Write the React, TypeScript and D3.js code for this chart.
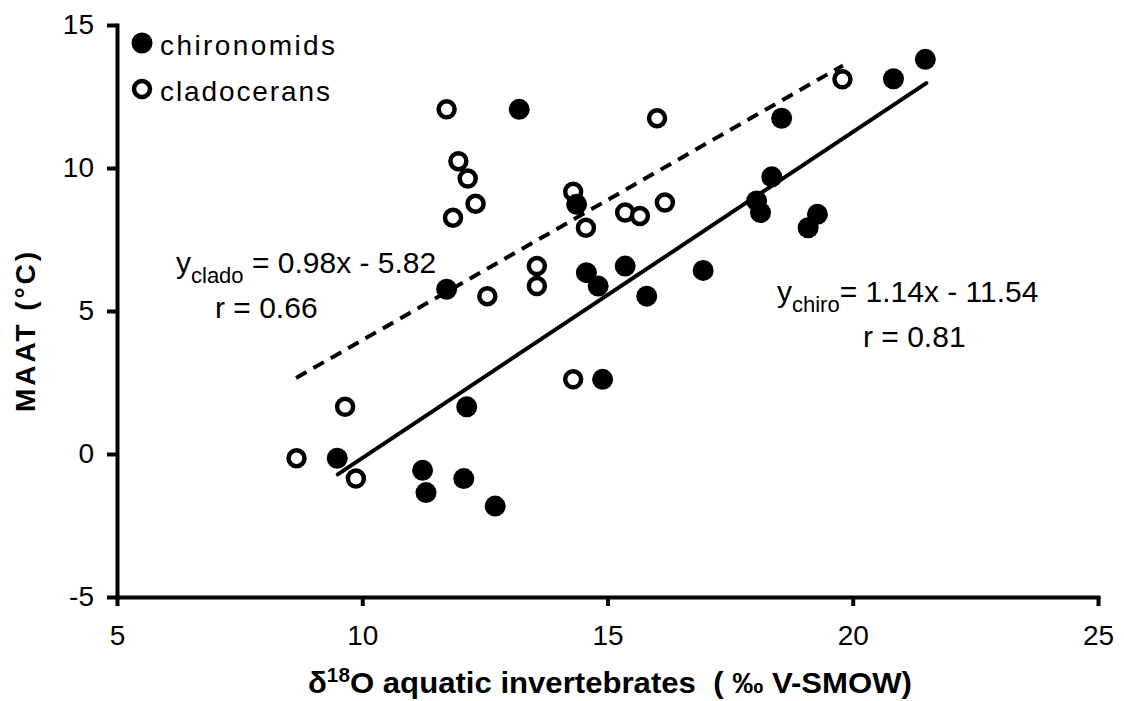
import React, { useEffect, useRef } from "react";
import * as d3 from "d3";

// chironomids (filled)
const chiroX = [9.49, 11.23, 11.3, 12.07, 12.71, 12.13, 11.72, 13.2, 14.37, 14.57, 14.81, 15.36, 14.9, 15.8, 16.95, 18.04, 18.12, 18.35, 18.55, 19.09, 19.28, 20.83, 21.48];
const chiroY = [-0.15, -0.57, -1.35, -0.86, -1.82, 1.65, 5.76, 12.05, 8.73, 6.34, 5.87, 6.57, 2.61, 5.52, 6.42, 8.85, 8.44, 9.69, 11.74, 7.91, 8.38, 13.12, 13.8];

// cladocerans (open)
const cladoX = [8.66, 9.87, 9.65, 11.72, 11.96, 12.15, 12.31, 11.85, 12.55, 13.56, 13.56, 14.3, 14.56, 14.3, 15.36, 15.66, 16.17, 16.01, 19.79];
const cladoY = [-0.15, -0.86, 1.65, 12.05, 10.24, 9.63, 8.75, 8.26, 5.52, 6.57, 5.87, 9.17, 7.91, 2.61, 8.44, 8.32, 8.79, 11.74, 13.1];

// regression lines: slope, intercept, x extent
const chiroFit = [1.14, -11.54];
const chiroFitRange = [9.5, 21.5];
const cladoFit = [0.98, -5.82];
const cladoFitRange = [8.65, 19.8];

const xTicks = [5, 10, 15, 20, 25];
const yTicks = [-5, 0, 5, 10, 15];

const FONT = "'Liberation Sans', Arial, sans-serif";

export default function App() {
  const ref = useRef<SVGSVGElement>(null);

  useEffect(() => {
    const svg = d3.select(ref.current);
    svg.selectAll("*").remove();

    const x = d3.scaleLinear().domain([5, 25]).range([117, 1098]);
    const y = d3.scaleLinear().domain([-5, 15]).range([597, 25]);

    // axes
    const gx = svg.append("g")
      .attr("transform", `translate(0, ${y(-5)})`)
      .call(d3.axisBottom(x).tickValues(xTicks).tickFormat(d => String(d)).tickSize(9).tickSizeOuter(0).tickPadding(19));
    const gy = svg.append("g")
      .attr("transform", `translate(${x(5)}, 0)`)
      .call(d3.axisLeft(y).tickValues(yTicks).tickFormat(d => String(d)).tickSize(10).tickSizeOuter(0).tickPadding(13));

    [gx, gy].forEach(g => {
      g.select(".domain").attr("stroke", "#000").attr("stroke-width", 4).attr("stroke-linecap", "square");
      g.selectAll(".tick line").attr("stroke", "#000").attr("stroke-width", 4);
      g.selectAll(".tick text")
        .attr("fill", "#000")
        .style("font-family", FONT)
        .style("font-size", "28px");
    });

    // regression lines
    const line = d3.line<number>().x(d => x(d));
    svg.append("path")
      .datum(cladoFitRange)
      .attr("d", line.y(d => y(cladoFit[0] * d + cladoFit[1])))
      .attr("fill", "none")
      .attr("stroke", "#000")
      .attr("stroke-width", 4)
      .attr("stroke-dasharray", "12,8");
    svg.append("path")
      .datum(chiroFitRange)
      .attr("d", line.y(d => y(chiroFit[0] * d + chiroFit[1])))
      .attr("fill", "none")
      .attr("stroke", "#000")
      .attr("stroke-width", 4)
      .attr("stroke-linecap", "round");

    // points
    svg.append("g").selectAll("circle")
      .data(d3.range(cladoX.length))
      .join("circle")
      .attr("cx", i => x(cladoX[i]))
      .attr("cy", i => y(cladoY[i]))
      .attr("r", 8)
      .attr("fill", "#fff")
      .attr("stroke", "#000")
      .attr("stroke-width", 4.5);

    svg.append("g").selectAll("circle")
      .data(d3.range(chiroX.length))
      .join("circle")
      .attr("cx", i => x(chiroX[i]))
      .attr("cy", i => y(chiroY[i]))
      .attr("r", 10.5)
      .attr("fill", "#000");

    // legend
    const legend = svg.append("g").style("font-family", FONT).style("font-size", "28px");
    legend.append("circle").attr("cx", 142).attr("cy", 43).attr("r", 10.5).attr("fill", "#000");
    legend.append("circle").attr("cx", 142).attr("cy", 89).attr("r", 8)
      .attr("fill", "#fff").attr("stroke", "#000").attr("stroke-width", 4.5);
    legend.append("text").attr("x", 160).attr("y", 55)
      .attr("textLength", 175).attr("lengthAdjust", "spacing").text("chironomids");
    legend.append("text").attr("x", 160).attr("y", 101)
      .attr("textLength", 170).attr("lengthAdjust", "spacing").text("cladocerans");

    // equations
    const eq = svg.append("g").style("font-family", FONT).style("font-size", "30px");
    const t1 = eq.append("text").attr("x", 176).attr("y", 273);
    t1.append("tspan").text("y");
    t1.append("tspan").attr("dy", 10).style("font-size", "22px").text("clado");
    t1.append("tspan").attr("dy", -10).text(" = 0.98x - 5.82");
    eq.append("text").attr("x", 215).attr("y", 318).text("r = 0.66");

    const t2 = eq.append("text").attr("x", 777).attr("y", 302);
    t2.append("tspan").text("y");
    t2.append("tspan").attr("dy", 10).style("font-size", "22px").text("chiro");
    t2.append("tspan").attr("dy", -10).text("= 1.14x - 11.54");
    eq.append("text").attr("x", 863).attr("y", 347).text("r = 0.81");

    // axis titles
    const xt = svg.append("text")
      .attr("x", 308)
      .attr("y", 693)
      .attr("textLength", 604)
      .attr("lengthAdjust", "spacingAndGlyphs")
      .style("font-family", FONT)
      .style("font-size", "30px")
      .style("font-weight", "bold")
      .style("white-space", "pre");
    xt.append("tspan").text("δ");
    xt.append("tspan").attr("dy", -11).style("font-size", "20px").text("18");
    xt.append("tspan").attr("dy", 11).text("O aquatic invertebrates\u00a0\u00a0( ‰ V-SMOW)");

    svg.append("text")
      .attr("transform", `translate(35, 332) rotate(-90)`)
      .attr("text-anchor", "middle")
      .attr("textLength", 160)
      .attr("lengthAdjust", "spacing")
      .style("font-family", FONT)
      .style("font-size", "28px")
      .style("font-weight", "bold")
      .text("MAAT (°C)");
  }, []);

  return (
    <svg ref={ref} width={1124} height={701}
      style={{ position: "absolute", left: 0, top: 0, background: "#fff" }} />
  );
}
